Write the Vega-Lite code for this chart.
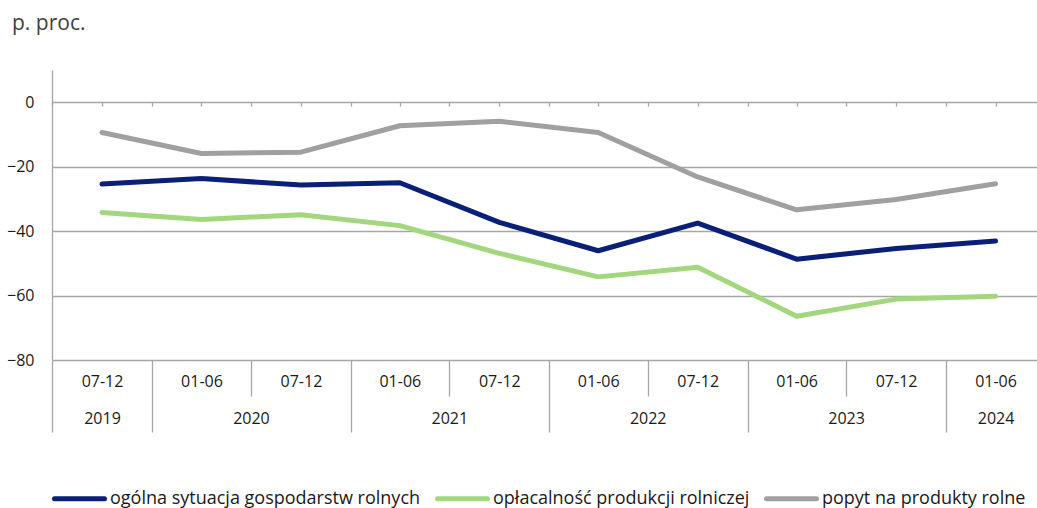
{
  "$schema": "https://vega.github.io/schema/vega-lite/v6.json",
  "width": 985,
  "height": 290,
  "autosize": "none",
  "padding": {"left": 52, "top": 70, "right": 0, "bottom": 148},
  "background": "white",
  "title": {"text": "p. proc.", "anchor": "start", "frame": "group", "dx": -40, "offset": 36, "font": "Open Sans", "fontSize": 21, "fontWeight": "normal", "color": "#404040"},
  "data": {"values": [
    {"date": "2019-10-01", "series": "ogólna sytuacja gospodarstw rolnych", "value": -25.4},
    {"date": "2020-04-01", "series": "ogólna sytuacja gospodarstw rolnych", "value": -23.7},
    {"date": "2020-10-01", "series": "ogólna sytuacja gospodarstw rolnych", "value": -25.7},
    {"date": "2021-04-01", "series": "ogólna sytuacja gospodarstw rolnych", "value": -25.0},
    {"date": "2021-10-01", "series": "ogólna sytuacja gospodarstw rolnych", "value": -37.3},
    {"date": "2022-04-01", "series": "ogólna sytuacja gospodarstw rolnych", "value": -46.1},
    {"date": "2022-10-01", "series": "ogólna sytuacja gospodarstw rolnych", "value": -37.5},
    {"date": "2023-04-01", "series": "ogólna sytuacja gospodarstw rolnych", "value": -48.7},
    {"date": "2023-10-01", "series": "ogólna sytuacja gospodarstw rolnych", "value": -45.4},
    {"date": "2024-04-01", "series": "ogólna sytuacja gospodarstw rolnych", "value": -43.1},
    {"date": "2019-10-01", "series": "opłacalność produkcji rolniczej", "value": -34.2},
    {"date": "2020-04-01", "series": "opłacalność produkcji rolniczej", "value": -36.4},
    {"date": "2020-10-01", "series": "opłacalność produkcji rolniczej", "value": -34.9},
    {"date": "2021-04-01", "series": "opłacalność produkcji rolniczej", "value": -38.3},
    {"date": "2021-10-01", "series": "opłacalność produkcji rolniczej", "value": -46.9},
    {"date": "2022-04-01", "series": "opłacalność produkcji rolniczej", "value": -54.2},
    {"date": "2022-10-01", "series": "opłacalność produkcji rolniczej", "value": -51.2},
    {"date": "2023-04-01", "series": "opłacalność produkcji rolniczej", "value": -66.4},
    {"date": "2023-10-01", "series": "opłacalność produkcji rolniczej", "value": -61.1},
    {"date": "2024-04-01", "series": "opłacalność produkcji rolniczej", "value": -60.2},
    {"date": "2019-10-01", "series": "popyt na produkty rolne", "value": -9.4},
    {"date": "2020-04-01", "series": "popyt na produkty rolne", "value": -15.9},
    {"date": "2020-10-01", "series": "popyt na produkty rolne", "value": -15.5},
    {"date": "2021-04-01", "series": "popyt na produkty rolne", "value": -7.3},
    {"date": "2021-10-01", "series": "popyt na produkty rolne", "value": -5.9},
    {"date": "2022-04-01", "series": "popyt na produkty rolne", "value": -9.4},
    {"date": "2022-10-01", "series": "popyt na produkty rolne", "value": -23.2},
    {"date": "2023-04-01", "series": "popyt na produkty rolne", "value": -33.4},
    {"date": "2023-10-01", "series": "popyt na produkty rolne", "value": -30.2},
    {"date": "2024-04-01", "series": "popyt na produkty rolne", "value": -25.3}
  ]},
  "layer": [
    {
      "mark": {"type": "line", "strokeWidth": 5, "strokeCap": "round", "strokeJoin": "round"},
      "encoding": {
        "x": {
          "field": "date", "type": "temporal",
          "scale": {"type": "utc", "domain": [{"year": 2019, "month": 7, "date": 1, "utc": true}, {"year": 2024, "month": 7, "date": 1, "utc": true}], "range": [0, 993]},
          "axis": {"orient": "bottom", "title": null, "tickCount": {"interval": "month", "step": 3}, "labelExpr": "utcmonth(datum.value) == 3 ? '01-06' : (utcmonth(datum.value) == 9 ? '07-12' : '')", "ticks": false, "domain": false, "grid": false, "labelOverlap": false, "labelFlush": false, "labelPadding": 13, "labelFont": "Open Sans", "labelFontSize": 16, "labelColor": "#1a1a1a"}
        },
        "y": {
          "field": "value", "type": "quantitative",
          "scale": {"domain": [-80, 10], "nice": false, "zero": false},
          "axis": {"title": null, "values": [-80, -60, -40, -20, 0], "ticks": false, "grid": true, "gridColor": "#a6a6a6", "gridWidth": 1.3, "domainColor": "#a6a6a6", "domainWidth": 1.3, "labelFont": "Open Sans", "labelFontSize": 16, "labelColor": "#1a1a1a", "labelPadding": 18}
        },
        "color": {
          "field": "series", "type": "nominal",
          "scale": {"domain": ["ogólna sytuacja gospodarstw rolnych", "opłacalność produkcji rolniczej", "popyt na produkty rolne"], "range": ["#0a1f78", "#a2d77e", "#a0a0a0"]},
          "legend": {"orient": "bottom", "direction": "horizontal", "title": null, "symbolType": "stroke", "symbolSize": 2500, "symbolStrokeWidth": 5, "labelFont": "Open Sans", "labelFontSize": 18, "labelLimit": 600, "labelColor": "#1a1a1a", "labelOffset": 3, "columnPadding": 6, "offset": 38, "encode": {"symbols": {"update": {"strokeCap": {"value": "round"}}}}}
        }
      }
    },
    {
      "mark": {"type": "point", "opacity": 0},
      "encoding": {
        "x": {
          "field": "date", "type": "temporal",
          "scale": {"type": "utc", "domain": [{"year": 2019, "month": 7, "date": 1, "utc": true}, {"year": 2024, "month": 7, "date": 1, "utc": true}], "range": [0, 993]},
          "axis": {"orient": "bottom", "title": null, "tickCount": {"interval": "month", "step": 6}, "labels": false, "domain": false, "grid": false, "ticks": true, "tickColor": "#a6a6a6", "tickWidth": 1.3, "tickSize": {"condition": {"test": "utcmonth(datum.value) == 0 || utcyear(datum.value) == 2019", "value": 72}, "value": 36}}
        }
      }
    },
    {
      "mark": {"type": "point", "opacity": 0},
      "encoding": {
        "x": {
          "field": "date", "type": "temporal",
          "scale": {"type": "utc", "domain": [{"year": 2019, "month": 7, "date": 1, "utc": true}, {"year": 2024, "month": 7, "date": 1, "utc": true}], "range": [0, 993]},
          "axis": {"orient": "bottom", "title": null, "values": [{"year": 2019, "month": 10, "date": 1, "utc": true}, {"year": 2020, "month": 7, "date": 1, "utc": true}, {"year": 2021, "month": 7, "date": 1, "utc": true}, {"year": 2022, "month": 7, "date": 1, "utc": true}, {"year": 2023, "month": 7, "date": 1, "utc": true}, {"year": 2024, "month": 4, "date": 1, "utc": true}], "labelExpr": "utcFormat(datum.value, '%Y')", "ticks": false, "domain": false, "grid": false, "labelOverlap": false, "labelFlush": false, "labelPadding": 50, "labelFont": "Open Sans", "labelFontSize": 16, "labelColor": "#1a1a1a"}
        }
      }
    },
    {
      "mark": {"type": "point", "opacity": 0},
      "encoding": {
        "x": {
          "field": "date", "type": "temporal",
          "scale": {"type": "utc", "domain": [{"year": 2019, "month": 7, "date": 1, "utc": true}, {"year": 2024, "month": 7, "date": 1, "utc": true}], "range": [0, 993]},
          "axis": {"orient": "bottom", "title": null, "offset": -258, "tickCount": {"interval": "month", "step": 3}, "labels": false, "domain": false, "grid": false, "ticks": true, "tickSize": 4, "tickColor": "#a6a6a6", "tickWidth": 1.3}
        }
      }
    }
  ],
  "resolve": {"axis": {"x": "independent"}},
  "config": {"view": {"stroke": null}}
}
